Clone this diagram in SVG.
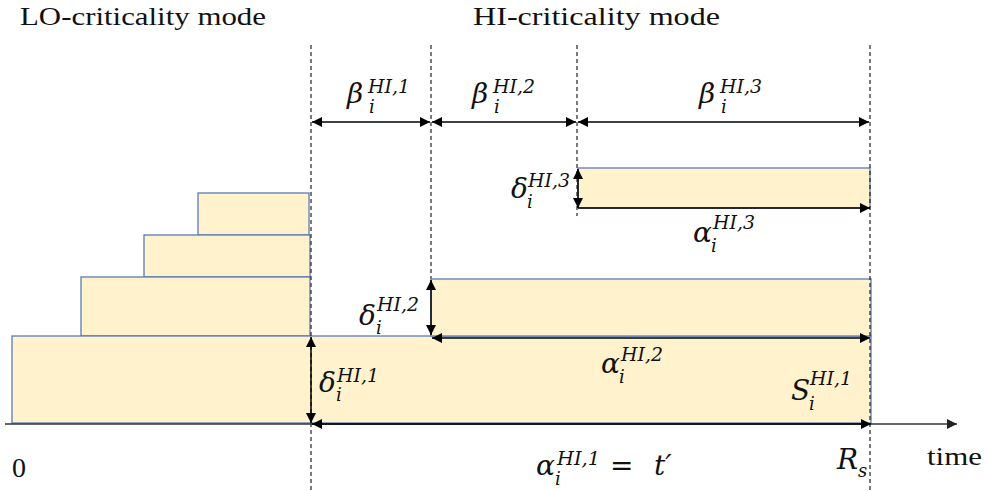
<svg xmlns="http://www.w3.org/2000/svg" width="987" height="491" viewBox="0 0 987 491">
<defs>
<style>
.box{fill:#FFF2CC;stroke:#5B7BB4;stroke-width:1.3}
.dash{stroke:#222;stroke-width:1.2;stroke-dasharray:4 3;fill:none}
.arr{stroke:#000;stroke-width:1.5;fill:none}
.m{font-family:"DejaVu Serif","Liberation Serif",serif;font-style:italic;font-size:28px;fill:#111}
.s{font-family:"DejaVu Serif","Liberation Serif",serif;font-style:italic;font-size:18px;fill:#111}
.t{font-family:"Liberation Serif",serif;font-size:25px;fill:#111}
.z{font-family:"Liberation Serif",serif;font-size:28px;fill:#111}
</style>
<marker id="ah" viewBox="0 0 10 10" refX="10" refY="5" markerWidth="11" markerHeight="10" markerUnits="userSpaceOnUse" orient="auto-start-reverse">
<path d="M0,0 L10,5 L0,10 z" fill="#000"/>
</marker>
<marker id="ahg" viewBox="0 0 10 10" refX="10" refY="5" markerWidth="12" markerHeight="10" markerUnits="userSpaceOnUse" orient="auto">
<path d="M0,0 L10,5 L0,10 z" fill="#222"/>
</marker>
</defs>

<g id="guides">
<line class="dash" x1="431" y1="45" x2="431" y2="279"/>
<line class="dash" x1="577" y1="45" x2="577" y2="216"/>
</g>

<g id="lo-jobs">
<rect id="lo1" class="box" x="198" y="193" width="111" height="42"/>
<rect id="lo2" class="box" x="144" y="235" width="166" height="42"/>
<rect id="lo3" class="box" x="81" y="277" width="229" height="59"/>
<rect id="base" class="box" x="12" y="336" width="859" height="87"/>
</g>
<g id="hi-jobs">
<rect id="hi2" class="box" x="431" y="279" width="440" height="57"/>
<rect id="hi3" class="box" x="578" y="168" width="292" height="40"/>
</g>

<g id="guides-top">
<line class="dash" x1="311" y1="45" x2="311" y2="491"/>
<line class="dash" x1="870" y1="45" x2="870" y2="491"/>
</g>

<g id="connectors">
<line x1="5" y1="424" x2="957" y2="424" stroke="#333" stroke-width="1.5" marker-end="url(#ahg)"/>
<line class="arr" x1="312" y1="424" x2="871" y2="424" marker-start="url(#ah)" marker-end="url(#ah)"/>
<line class="arr" x1="312" y1="122" x2="430" y2="122" marker-start="url(#ah)" marker-end="url(#ah)"/>
<line class="arr" x1="432" y1="122" x2="576" y2="122" marker-start="url(#ah)" marker-end="url(#ah)"/>
<line class="arr" x1="578" y1="122" x2="869" y2="122" marker-start="url(#ah)" marker-end="url(#ah)"/>
<line class="arr" x1="311" y1="337" x2="311" y2="423" marker-start="url(#ah)" marker-end="url(#ah)"/>
<line class="arr" x1="431" y1="280" x2="431" y2="335" marker-start="url(#ah)" marker-end="url(#ah)"/>
<line class="arr" x1="578" y1="169" x2="578" y2="208" marker-start="url(#ah)" marker-end="url(#ah)"/>
<line class="arr" x1="578" y1="208" x2="870" y2="208" marker-end="url(#ah)"/>
<line class="arr" x1="432" y1="338" x2="870" y2="338" marker-start="url(#ah)" marker-end="url(#ah)"/>
</g>

<g id="titles">
<text class="t" x="20" y="25" textLength="246" lengthAdjust="spacingAndGlyphs">LO-criticality mode</text>
<text class="t" x="473" y="25" textLength="247" lengthAdjust="spacingAndGlyphs">HI-criticality mode</text>
<text class="z" x="12" y="477">0</text>
<text class="t" x="927" y="465" textLength="55" lengthAdjust="spacingAndGlyphs">time</text>
</g>

<g id="labels">
<g id="beta1"><text class="m" x="347" y="103">β</text><text class="s" x="369" y="113">i</text><text class="s" x="368" y="93" textLength="42" lengthAdjust="spacingAndGlyphs">HI,1</text></g>
<g id="beta2"><text class="m" x="472" y="103">β</text><text class="s" x="494" y="113">i</text><text class="s" x="493" y="93" textLength="42" lengthAdjust="spacingAndGlyphs">HI,2</text></g>
<g id="beta3"><text class="m" x="699" y="103">β</text><text class="s" x="721" y="113">i</text><text class="s" x="720" y="93" textLength="42" lengthAdjust="spacingAndGlyphs">HI,3</text></g>
<g id="delta3"><text class="m" x="511" y="198">δ</text><text class="s" x="527" y="208">i</text><text class="s" x="528" y="187" textLength="42" lengthAdjust="spacingAndGlyphs">HI,3</text></g>
<g id="alpha3"><text class="m" x="693" y="242">α</text><text class="s" x="711" y="252">i</text><text class="s" x="713" y="229" textLength="42" lengthAdjust="spacingAndGlyphs">HI,3</text></g>
<g id="delta2"><text class="m" x="359" y="325">δ</text><text class="s" x="376" y="334">i</text><text class="s" x="377" y="311" textLength="42" lengthAdjust="spacingAndGlyphs">HI,2</text></g>
<g id="delta1"><text class="m" x="319" y="392">δ</text><text class="s" x="336" y="401">i</text><text class="s" x="337" y="382" textLength="42" lengthAdjust="spacingAndGlyphs">HI,1</text></g>
<g id="alpha2"><text class="m" x="601" y="373">α</text><text class="s" x="619" y="383">i</text><text class="s" x="621" y="361" textLength="42" lengthAdjust="spacingAndGlyphs">HI,2</text></g>
<g id="s1"><text class="m" x="791" y="400">S</text><text class="s" x="809" y="410">i</text><text class="s" x="810" y="385" textLength="42" lengthAdjust="spacingAndGlyphs">HI,1</text></g>
<g id="alpha1"><text class="m" x="536" y="475">α</text><text class="s" x="555" y="485">i</text><text class="s" x="557" y="465" textLength="43" lengthAdjust="spacingAndGlyphs">HI,1</text><text class="m" x="610" y="475" style="font-style:normal">=</text><text class="m" x="654" y="475">t′</text></g>
<g id="rs"><text class="m" x="837" y="469">R</text><text class="s" x="858" y="477">s</text></g>
</g>
</svg>
